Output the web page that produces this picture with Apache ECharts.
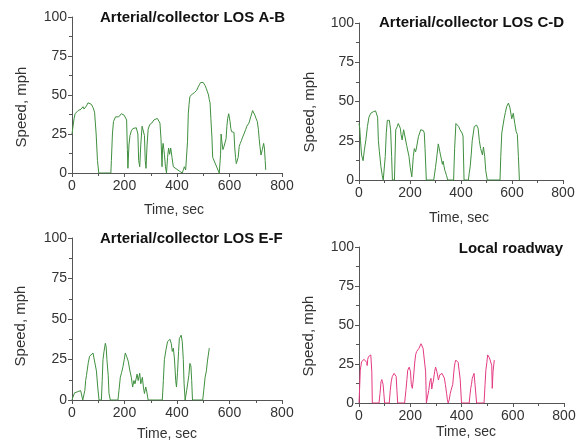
<!DOCTYPE html>
<html><head><meta charset="utf-8">
<script src="https://cdn.jsdelivr.net/npm/echarts@6/dist/echarts.min.js"></script>
<style>html,body{margin:0;padding:0;background:#fff}#c{width:582px;height:448px}</style>
</head><body><div id="c"></div>
<script>
// ---- Data ----
var panelTitles = ['Arterial/collector LOS A-B','Arterial/collector LOS C-D','Arterial/collector LOS E-F','Local roadway'];
var xTicks = [0,200,400,600,800];
var yTicks = [0,25,50,75,100];
var xName = 'Time, sec';
var yName = 'Speed, mph';

var abTime  = [0,4,8,12,17,23,29,35,38,42,46,50,55,61,67,74,80,86,92,97,102,
  148,150,154,158,162,166,169,173,178,183,188,194,199,203,208,211,213,
  217,221,226,232,238,245,249,251,254,258,262,267,272,276,279,282,
  286,290,296,304,312,318,325,330,335,339,343,345,347,350,352,356,360,364,368,372,376,381,386,
  411,417,420,424,428,433,437,440,443,446,449,454,458,462,466,470,475,480,485,490,494,500,507,512,516,520,523,526,529,533,536,
  561,564,566,568,571,575,579,583,587,590,593,597,602,605,608,612,617,620,623,626,629,633,637,641,646,650,655,659,662,666,669,674,677,681,684,688,693,697,701,706,710,713,716,720,725,730,733,736,738];
var abSpeed = [25,30,35,38,39,40,40,41,42,42.5,41,42,43,45,45,44,42,39,25,8,0,
  0,8,25,33,34,36,35,35,36,37,38,39,37,36,34,15,3,
  18,24,27,28.5,28.5,29,28.5,25,8,4,18,30,29,24,8,3,
  18,28,31,32,34,34,35,34,32,22,4,16,19,15,12,4,0,10,16,12,16,10,4,1,0,
  0,2,4,2,3,20,38,44,49,50,50.5,51,51.5,52,53,55,56.5,58,58.3,58,56,54,52,50,47,45,35,23,10,0,
  0,12,25,20,15,17,16,22,30,35,38,33,28.5,26.5,27,26,16,10,6,7,10,17,19,21,23,25,26,28,30,31,32,33,36,37,40,39,37,35,33,28,22,17,11.5,15,19,16,8,2,0];

var cdTime  = [0,3,6,10,16,21,27,33,39,46,50,56,65,69,73,76,80,86,91,95,
  99,103,107,111,115,119,124,128,131,
  139,144,150,154,158,162,165,169,175,180,187,191,196,201,207,
  213,217,222,226,233,238,242,247,252,256,259,264,
  293,300,306,311,317,322,327,330,333,337,343,348,
  371,375,380,385,391,396,400,404,408,412,
  429,432,436,440,444,452,461,467,472,477,484,488,493,497,503,
  553,556,560,565,569,574,579,586,592,599,605,611,616,621,625,629];
var cdSpeed = [36,33,25,16,12.3,19,25.5,34,40,42.5,42,43.5,44,44.5,40,25,18,8.5,3,0,
  0,15,30,38,38.5,38,32,15,0,
  0,32,34,36,37,33,29,25.5,32,31,22,21,15,8,2,
  15,20,18,21,27.6,30,32,33,31.5,30,20,0,
  0,8,16,23,18,14,10,12,9,6,3,0,
  0,20,36,35,34,32,32,30,28,0,
  0,4,8.5,16,25,34,35,33,25,20,16,21,15,6,0,
  0,15,30,35,39,43,46.7,49,46,39,42.5,36,31,29,15,0];

var efTime  = [0,3,10,20,26,33,38,41,
  46,49,52,55,58,62,67,73,80,86,93,98,103,
  112,115,118,122,127,130,133,138,141,146,
  175,179,184,189,194,199,203,208,214,220,226,231,236,240,243,248,252,258,262,265,268,272,276,281,285,290,
  344,348,352,358,364,369,373,378,382,386,390,393,395,398,402,406,409,412,416,420,424,427,431,
  437,441,445,449,453,456,459,
  498,502,507,512,516,523];
var efSpeed = [0,1.6,4.5,5,5.2,5.8,5.5,0,
  0,6,12,15,18.5,23,27,28,29,28.5,18,8,0,
  0,12,25,30,35,33,25,15,4,0,
  0,6,14,17,20.5,25,29,27,24,18.5,14,8,12,10,11,16,12,16.5,10,12,14,8,4,8,5,0,
  0,12,25,31,36,37,37.5,35,30,32,26,18,12,8,17,30,38,39,40,36,25,10,0,
  6,7,15,22.6,21,12,0,
  0,6,14,18,24,32];

var lrTime  = [0,3,5,10,15,20,23,27,30,32,34,37,40,46,50,52,
  78,82,86,89,91,94,97,100,
  118,122,126,130,134,137,141,145,148,151,
  178,183,187,190,193,196,201,204,208,212,217,221,225,230,234,238,242,246,250,254,257,260,263,
  268,272,277,281,284,287,290,295,299,304,310,315,319,324,329,333,337,342,345,348,
  352,356,359,363,366,369,372,375,378,383,387,391,395,400,
  430,433,436,439,442,446,449,452,455,459,
  488,492,495,499,502,505,509,514,518,520,523,528];
var lrSpeed = [0,12,21,26.5,27,28,29,27,26,24,28,29.7,30,30.8,20,0,
  0,6,13.7,15,15.8,12,6,0,
  0,8,14,17,18,19,18,17,8,0,
  0,8,15,21,22,23,20,12,9.4,15,25,31,33,34,35,36,38,37,35,35.5,34,20,0,
  0,8,14,15.8,9,12,14,20,23,20,14.7,18,19,19,20,16,12,6,2,0,
  2,6,8,7,12,18,23,26,27.5,27,26,26,15,0,
  0,5,9.4,12,15.8,17,19,18,19,0,
  0,12,21,26,30.8,30,29,28.5,24,9.4,20,27.5];

// ---- Build chart ----
var green = '#3f8f3f', pink = '#e33b82';
var grids = [
  {left:72, top:17, width:210, height:156},
  {left:359, top:23, width:204, height:157},
  {left:72, top:238, width:210, height:162},
  {left:359, top:247, width:205, height:156}
];
function zip(a,b){ return a.map(function(t,i){ return [t,b[i]]; }); }
var seriesData = [zip(abTime,abSpeed), zip(cdTime,cdSpeed), zip(efTime,efSpeed), zip(lrTime,lrSpeed)];
var colors = [green, green, green, pink];
var axisColor = '#555';
var font = '"Liberation Sans", Arial, sans-serif';

var xAxes = [], yAxes = [], series = [];
for (var i=0;i<4;i++){
  xAxes.push({type:'value', gridIndex:i, min:xTicks[0], max:xTicks[xTicks.length-1], interval:xTicks[1]-xTicks[0],
    axisLine:{show:true, onZero:false, lineStyle:{color:axisColor, width:1}},
    axisTick:{show:true, length:4, lineStyle:{color:axisColor}},
    minorTick:{show:true, splitNumber:2, length:3, lineStyle:{color:axisColor}},
    splitLine:{show:false},
    axisLabel:{fontSize:14, color:'#333', margin:6, fontFamily:font}});
  yAxes.push({type:'value', gridIndex:i, min:yTicks[0], max:yTicks[yTicks.length-1], interval:yTicks[1]-yTicks[0],
    axisLine:{show:true, onZero:false, lineStyle:{color:axisColor, width:1}},
    axisTick:{show:true, length:4, lineStyle:{color:axisColor}},
    minorTick:{show:true, splitNumber:2, length:3, lineStyle:{color:axisColor}},
    splitLine:{show:false},
    axisLabel:{fontSize:14, color:'#333', margin:5, fontFamily:font}});
  series.push({type:'line', xAxisIndex:i, yAxisIndex:i, data:seriesData[i], showSymbol:false, symbol:'none',
    lineStyle:{color:colors[i], width:1}, smooth:false, animation:false, z:1});
}

function txt(text, x, y, opts){
  opts = opts || {};
  return {type:'text', x:x, y:y, rotation:opts.rot||0, z:10,
    style:{text:text, fill:opts.fill||'#333', font:opts.font, textAlign:opts.align||'center', textVerticalAlign:'middle',
      align:opts.align||'center', verticalAlign:'middle'}};
}
var titleFont = 'bold 15px ' + font;
var nameFont = '15px ' + font;
var graphics = [
  txt(panelTitles[0], 100, 18, {font:titleFont, fill:'#111', align:'left'}),
  txt(panelTitles[1], 379, 23, {font:titleFont, fill:'#111', align:'left'}),
  txt(panelTitles[2], 100, 239, {font:titleFont, fill:'#111', align:'left'}),
  txt(panelTitles[3], 563, 249, {font:titleFont, fill:'#111', align:'right'}),
  txt(yName, 22, 107, {font:nameFont, rot:Math.PI/2}),
  txt(yName, 310, 112, {font:nameFont, rot:Math.PI/2}),
  txt(yName, 21, 326, {font:nameFont, rot:Math.PI/2}),
  txt(yName, 309, 336, {font:nameFont, rot:Math.PI/2}),
  txt(xName, 174, 210, {font:'14px ' + font}),
  txt(xName, 459, 218, {font:'14px ' + font}),
  txt(xName, 167, 434, {font:'14px ' + font}),
  txt(xName, 466, 432, {font:'14px ' + font})
];

var chart = echarts.init(document.getElementById('c'), null, {renderer:'canvas'});
chart.setOption({
  animation:false,
  backgroundColor:'#fff',
  grid:grids,
  xAxis:xAxes,
  yAxis:yAxes,
  series:series,
  graphic:graphics
});
</script></body></html>
